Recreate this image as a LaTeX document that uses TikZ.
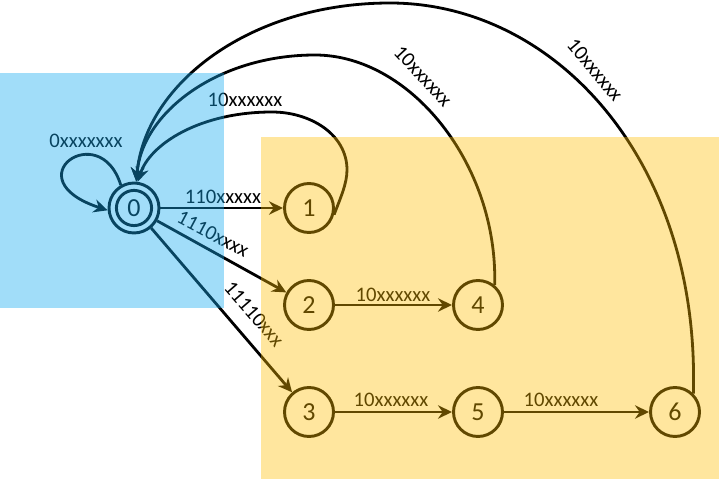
\documentclass[tikz,border=0pt]{standalone}
\usepackage{fontspec}
\setmainfont{Carlito}
\usetikzlibrary{arrows.meta}

\definecolor{panelblue}{RGB}{20,170,240}
\definecolor{panelyellow}{RGB}{255,190,0}

\tikzset{
  state/.style={circle, draw=black, line width=2.2pt, minimum size=36.75pt,
    inner sep=0pt, font=\fontsize{19.5}{19.5}\selectfont},
  accept/.style={state, minimum size=37.5pt},
  edge/.style={line width=2.1pt, draw=black,
    -{Stealth[length=10.5pt, width=10pt, inset=3.5pt]}},
  elabel/.style={inner sep=1pt, font=\fontsize{15.5}{15.5}\selectfont},
  bluepanel/.style={fill=panelblue, fill opacity=0.4},
  yellowpanel/.style={fill=panelyellow, fill opacity=0.38}
}

\begin{document}
\begin{tikzpicture}[x=0.75pt, y=0.75pt]
\useasboundingbox (0,0) rectangle (719,479);

% states
\node[accept] (n0) at (134,271) {0};
\draw[line width=2.2pt] (n0.center) circle[radius=13.2pt];
\node[state] (n1) at (309,271) {1};
\node[state] (n2) at (309,174) {2};
\node[state] (n3) at (309,67) {3};
\node[state] (n4) at (478,174) {4};
\node[state] (n5) at (478,67) {5};
\node[state] (n6) at (675,67) {6};

% self loop on the start state
\draw[edge] (n0.120) .. controls (100,362) and (12,300) .. (n0.185);
\node[elabel] (l00) at (86,338) {0xxxxxxx};

% lead bytes
\draw[edge] (n0) -- (n1);
\node[elabel] (l01) at (223,282) {110xxxxx};
\draw[edge] (n0) -- (n2);
\node[elabel, rotate=-28] (l02) at (213,245) {1110xxxx};
\draw[edge] (n0) -- (n3);
\node[elabel, rotate=-49] (l03) at (254,165) {11110xxx};

% continuation bytes
\draw[edge] (n2) -- (n4);
\node[elabel] (l24) at (393,184) {10xxxxxx};
\draw[edge] (n3) -- (n5);
\node[elabel] (l35) at (391,79) {10xxxxxx};
\draw[edge] (n5) -- (n6);
\node[elabel] (l56) at (561,79) {10xxxxxx};

% returns to the start state
\draw[edge] (n1.-15) .. controls (340,280) and (347,295) .. (347,309)
  .. controls (347,345) and (310,367) .. (272,367)
  .. controls (200,367) and (150,335) .. (n0.82);
\node[elabel] (l10) at (245,379) {10xxxxxx};

\draw[edge] (n4.50) .. controls (498,315) and (410,424) .. (315,424)
  .. controls (217,424) and (142,366) .. (n0.85);
\node[elabel, rotate=-47] (l40) at (423,403) {10xxxxxx};

\draw[edge] (n6.45) .. controls (700,320) and (554,476) .. (390,476)
  .. controls (250,476) and (145,395) .. (n0.85);
\node[elabel, rotate=-50] (l60) at (595,409) {10xxxxxx};

% translucent panels laid over the graph
\fill[bluepanel] (0,171) rectangle (224,406);
\fill[yellowpanel] (261,0) rectangle (719,342);
\end{tikzpicture}
\end{document}
